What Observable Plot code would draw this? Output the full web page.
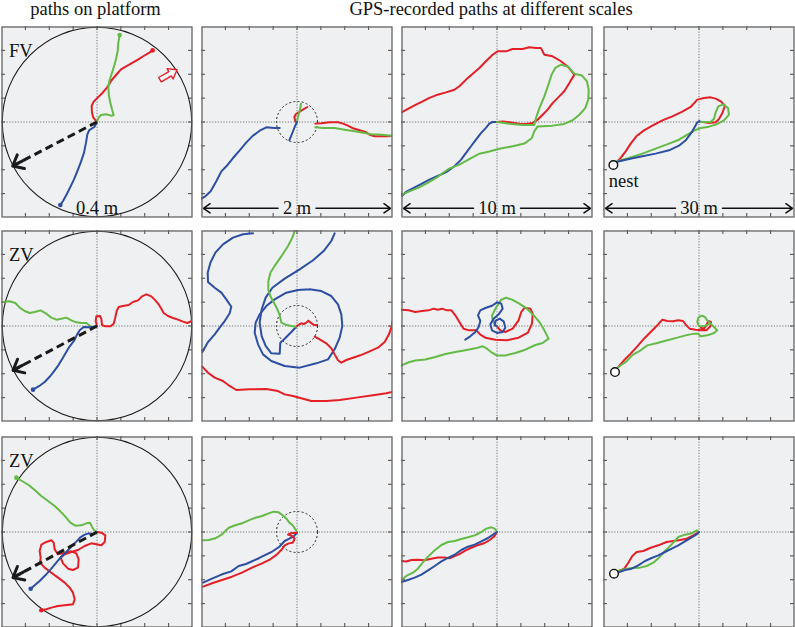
<!DOCTYPE html>
<html><head><meta charset="utf-8">
<script src="https://cdn.jsdelivr.net/npm/d3@7"></script>
<script src="https://cdn.jsdelivr.net/npm/@observablehq/plot@0.6"></script>
<style>
body{margin:0;background:#fff;}
#fig{position:relative;width:795px;height:627px;font-family:"Liberation Serif",serif;overflow:hidden;}
.title{position:absolute;top:0;font-size:18.5px;line-height:18.5px;text-align:center;white-space:nowrap;color:#111;}
.panel{position:absolute;}
</style></head><body>
<div id="fig"></div>
<script>
// ---------- labels ----------
const columnTitles = ["paths on platform", "GPS-recorded paths at different scales"];
const rowLabels = ["FV", "ZV", "ZV"];
const scaleLabels = ["0.4 m", "2 m", "10 m", "30 m"];
const nestLabel = "nest";
// half of the width of each column's panel, metres
const halfRange = [0.2, 1, 5, 15];
const tickPositions = [
  [-0.15, -0.1, -0.05, 0, 0.05, 0.1, 0.15],
  [-0.75, -0.5, -0.25, 0, 0.25, 0.5, 0.75],
  [-3.75, -2.5, -1.25, 0, 1.25, 2.5, 3.75],
  [-11.25, -7.5, -3.75, 0, 3.75, 7.5, 11.25]
];
const platformRadius = 0.215; // m, dashed circle in the 2 m panels
const homeVec = [[-0.1766, -0.0921], [-0.1759, -0.0928], [-0.1759, -0.0956]];
const nestPos = [[-13.45, -6.75], [-13.19, -7.23], [-13.35, -6.55]];

// ---------- row 1 (FV) ----------
const p11_red = [[0,0],[-0.0021,0.0021],[-0.0077,0.0091],[-0.0105,0.0195],[-0.0112,0.0335],[-0.0070,0.0426],[0.0014,0.0510],[0.0119,0.0614],[0.0209,0.0719],[0.0293,0.0859],[0.0398,0.0984],[0.0503,0.1103],[0.0628,0.1173],[0.0747,0.1242],[0.0866,0.1312],[0.0977,0.1382],[0.1096,0.1452],[0.1166,0.1501]];
const p11_green = [[0,0],[0.0035,0.0091],[0.0084,0.0147],[0.0188,0.0161],[0.0293,0.0133],[0.0349,0.0140],[0.0314,0.0265],[0.0279,0.0405],[0.0251,0.0544],[0.0237,0.0719],[0.0258,0.0859],[0.0293,0.0963],[0.0349,0.1138],[0.0398,0.1312],[0.0433,0.1487],[0.0447,0.1661],[0.0475,0.1822]];
const p11_blue = [[-0.0007,-0.0014],[-0.0056,-0.0105],[-0.0161,-0.0168],[-0.0202,-0.0258],[-0.0230,-0.0433],[-0.0272,-0.0642],[-0.0335,-0.0831],[-0.0405,-0.1012],[-0.0482,-0.1201],[-0.0565,-0.1375],[-0.0642,-0.1529],[-0.0712,-0.1654],[-0.0768,-0.1738]];
const p11_redArrow = [[0.1346,0.0840],[0.1558,0.0965],[0.1594,0.0900],[0.1675,0.1095],[0.1467,0.1118],[0.1504,0.1055],[0.1292,0.0932],[0.1346,0.0840]];

const p12_red_in = [[0,0],[-0.0175,0.0070],[-0.0279,0.0524],[-0.0105,0.0838],[0.0279,0.1082],[0.0733,0.1361],[0.1082,0.1571]];
const p12_green_in = [[0,0],[0.0105,0.0593],[0.0279,0.1117],[0.0384,0.1710],[0.0419,0.1920]];
const p12_blue_in = [[0,0],[-0.0244,-0.0524],[-0.0489,-0.1152],[-0.0803,-0.1920]];
const p12_red_out = [[0.192,-0.017],[0.255,-0.014],[0.342,-0.003],[0.429,-0.003],[0.482,-0.017],[0.534,-0.038],[0.586,-0.066],[0.656,-0.087],[0.726,-0.108],[0.761,-0.133],[0.813,-0.150],[0.883,-0.150],[0.953,-0.150],[0.995,-0.143]];
const p12_green_out = [[0.192,-0.056],[0.272,-0.063],[0.394,-0.063],[0.499,-0.080],[0.604,-0.098],[0.708,-0.115],[0.778,-0.129],[0.883,-0.133],[0.988,-0.143]];
const p12_blue_out = [[-0.181,-0.063],[-0.241,-0.063],[-0.321,-0.056],[-0.391,-0.091],[-0.461,-0.143],[-0.530,-0.213],[-0.600,-0.297],[-0.670,-0.377],[-0.740,-0.464],[-0.792,-0.517],[-0.845,-0.621],[-0.904,-0.726],[-0.960,-0.778],[-1.0,-0.803]];

const p13_red = [[-4.97,0.52],[-4.59,0.73],[-4.24,0.91],[-3.89,1.08],[-3.54,1.26],[-3.11,1.43],[-2.67,1.55],[-2.23,1.69],[-1.97,1.87],[-1.62,2.22],[-1.27,2.53],[-0.92,2.83],[-0.58,3.18],[-0.23,3.52],[0.03,3.70],[0.47,3.70],[0.82,3.82],[1.34,3.82],[1.69,3.91],[2.04,3.87],[2.30,3.87],[2.48,3.52],[2.91,3.44],[3.35,3.18],[3.70,2.91],[4.05,2.48],[3.79,2.04],[3.52,1.61],[3.26,1.34],[2.91,0.99],[2.65,0.65],[2.39,0.38],[2.13,0.12],[1.87,-0.05],[1.52,-0.10],[1.17,-0.09],[0.73,-0.02],[0.30,0.02],[0,0]];
const p13_green = [[0,0],[0.65,-0.09],[1.34,-0.16],[1.95,-0.16],[2.04,0.21],[2.22,0.73],[2.48,1.34],[2.69,1.95],[2.86,2.48],[3.05,2.83],[3.35,3.00],[3.70,2.91],[4.05,2.53],[4.45,2.43],[4.71,2.13],[4.80,1.69],[4.78,1.17],[4.62,0.73],[4.31,0.38],[3.96,0.09],[3.52,-0.10],[2.91,-0.19],[2.13,-0.23],[1.95,-0.49],[1.83,-0.84],[1.43,-1.13],[0.82,-1.27],[0.12,-1.40],[-0.40,-1.54],[-0.92,-1.66],[-1.45,-1.94],[-1.97,-2.23],[-2.50,-2.44],[-2.84,-2.67],[-3.19,-2.93],[-3.63,-3.19],[-4.07,-3.42],[-4.59,-3.63],[-4.97,-3.80]];
const p13_blue = [[0,0],[-0.23,0],[-0.40,-0.09],[-0.58,-0.31],[-0.84,-0.58],[-1.10,-0.92],[-1.36,-1.27],[-1.62,-1.62],[-1.88,-1.97],[-2.23,-2.32],[-2.58,-2.58],[-3.02,-2.79],[-3.54,-3.02],[-3.98,-3.25],[-4.41,-3.47],[-4.76,-3.66],[-4.97,-3.86]];

const p14_red = [[-12.99,-6.34],[-12.30,-5.65],[-11.52,-4.61],[-10.73,-3.40],[-9.84,-2.25],[-8.64,-1.31],[-7.33,-0.58],[-5.76,0.26],[-4.19,0.89],[-2.62,1.62],[-1.31,2.36],[-0.26,3.51],[0.79,3.77],[1.83,3.87],[2.62,3.67],[3.40,3.25],[4.08,2.57],[3.67,1.41],[3.14,0.47],[2.62,-0.05],[1.57,-0.16],[0.63,0],[0,0]];
const p14_green = [[-12.99,-6.18],[-11.00,-5.65],[-8.90,-4.97],[-6.81,-4.19],[-4.71,-3.40],[-3.14,-2.78],[-1.83,-1.99],[-0.79,-1.36],[0.26,-0.94],[1.57,-0.73],[2.88,-0.31],[3.93,0.26],[4.71,1.15],[4.56,2.20],[3.82,2.78],[3.04,2.46],[2.62,1.52],[2.36,0.52],[1.83,0],[0,0]];
const p14_blue = [[-12.99,-6.28],[-11.00,-5.81],[-8.90,-5.39],[-6.81,-4.97],[-4.71,-4.45],[-3.14,-3.72],[-2.09,-2.88],[-1.05,-1.47],[-0.26,-0.05],[0.10,0.16]];

// ---------- row 2 (ZV) ----------
const p21_green = [[-0.1968,0.0503],[-0.1829,0.0517],[-0.1710,0.0482],[-0.1619,0.0384],[-0.1515,0.0314],[-0.1410,0.0272],[-0.1305,0.0293],[-0.1180,0.0328],[-0.1082,0.0272],[-0.0956,0.0175],[-0.0852,0.0133],[-0.0747,0.0154],[-0.0642,0.0175],[-0.0537,0.0119],[-0.0433,0.0077],[-0.0328,0.0063],[-0.0223,0.0063],[-0.0119,-0.0021]];
const p21_red = [[0,0],[-0.0028,0.0105],[-0.0014,0.0202],[0.0063,0.0209],[0.0091,0.0147],[0.0105,0.0021],[0.0175,-0.0007],[0.0286,-0.0007],[0.0349,0.0049],[0.0377,0.0154],[0.0412,0.0314],[0.0454,0.0398],[0.0544,0.0419],[0.0663,0.0440],[0.0754,0.0503],[0.0859,0.0537],[0.0942,0.0621],[0.1033,0.0663],[0.1138,0.0621],[0.1222,0.0537],[0.1291,0.0454],[0.1347,0.0363],[0.1396,0.0272],[0.1487,0.0209],[0.1591,0.0168],[0.1696,0.0133],[0.1801,0.0091],[0.1892,0.0063],[0.1989,0.0105]];
const p21_blue = [[0,-0.0007],[-0.0154,-0.0028],[-0.0279,-0.0021],[-0.0363,-0.0091],[-0.0426,-0.0195],[-0.0482,-0.0314],[-0.0572,-0.0426],[-0.0656,-0.0565],[-0.0726,-0.0684],[-0.0810,-0.0824],[-0.0886,-0.0928],[-0.0977,-0.1047],[-0.1096,-0.1173],[-0.1208,-0.1256],[-0.1340,-0.1333]];

const p22_blueA = [[-0.461,0.970],[-0.565,0.960],[-0.670,0.925],[-0.775,0.855],[-0.855,0.768],[-0.907,0.663],[-0.935,0.558],[-0.932,0.461],[-0.862,0.401],[-0.792,0.349],[-0.740,0.279],[-0.688,0.202],[-0.705,0.133],[-0.757,0.052],[-0.810,-0.017],[-0.862,-0.087],[-0.932,-0.168],[-0.991,-0.272]];
const p22_blueB = [[0.394,0.970],[0.359,0.890],[0.279,0.785],[0.168,0.688],[0.028,0.593],[-0.129,0.496],[-0.258,0.401],[-0.328,0.297],[-0.370,0.175],[-0.391,0.035],[-0.370,-0.105],[-0.328,-0.209],[-0.269,-0.286],[-0.181,-0.290],[-0.175,-0.175],[-0.129,-0.133],[-0.059,-0.063],[0,0]];
const p22_blueC = [[0.133,0.384],[0.255,0.366],[0.359,0.314],[0.429,0.227],[0.464,0.122],[0.475,0],[0.447,-0.122],[0.394,-0.244],[0.325,-0.349],[0.202,-0.391],[0.028,-0.436],[-0.129,-0.419],[-0.269,-0.366],[-0.356,-0.297],[-0.408,-0.192],[-0.443,-0.070],[-0.433,0.035],[-0.391,0.122],[-0.321,0.209],[-0.234,0.279],[-0.112,0.349],[0.010,0.377],[0.133,0.384]];
const p22_green = [[-0.024,0.995],[-0.049,0.925],[-0.094,0.838],[-0.157,0.740],[-0.223,0.646],[-0.279,0.558],[-0.300,0.471],[-0.300,0.377],[-0.276,0.307],[-0.241,0.244],[-0.206,0.175],[-0.181,0.112],[-0.164,0.035],[-0.119,0.014],[-0.059,0],[-0.007,-0.007]];
const p22_red_in = [[0,0],[0.021,0.014],[0.045,0.028],[0.070,0.021],[0.098,0.035],[0.119,0.056],[0.143,0.035],[0.171,0.014],[0.209,0.007]];
const p22_redA = [[0.185,-0.112],[0.237,-0.140],[0.307,-0.181],[0.359,-0.234],[0.394,-0.297],[0.429,-0.359],[0.464,-0.384],[0.517,-0.356],[0.586,-0.332],[0.663,-0.307],[0.761,-0.265],[0.848,-0.227],[0.918,-0.168],[0.963,-0.087],[0.991,-0.007],[1.0,0.052]];
const p22_redB = [[-0.991,-0.426],[-0.932,-0.489],[-0.862,-0.541],[-0.775,-0.576],[-0.705,-0.628],[-0.635,-0.670],[-0.496,-0.663],[-0.321,-0.660],[-0.199,-0.681],[-0.129,-0.716],[-0.042,-0.733],[0.063,-0.761],[0.150,-0.785],[0.307,-0.785],[0.447,-0.775],[0.621,-0.750],[0.796,-0.726],[0.935,-0.705],[1.0,-0.691]];

const p23_red = [[-5.0,0.855],[-4.62,0.820],[-4.28,0.733],[-3.93,0.785],[-3.58,0.820],[-3.32,0.907],[-3.09,0.855],[-2.88,0.907],[-2.62,0.820],[-2.39,0.820],[-2.18,0.558],[-1.97,0.209],[-1.75,-0.140],[-1.45,-0.227],[-1.08,-0.227],[-0.873,-0.454],[-0.611,-0.611],[-0.087,-0.715],[0.524,-0.750],[1.13,-0.611],[1.62,-0.349],[1.83,0.122],[1.87,0.646],[1.75,0.907],[1.45,0.960],[1.27,0.733],[1.13,0.297],[0.820,-0.140],[0.436,-0.314],[0.175,-0.227],[0,-0.017]];
const p23_green = [[-5.0,-2.06],[-4.62,-1.90],[-4.28,-1.81],[-3.75,-1.75],[-3.23,-1.62],[-2.70,-1.47],[-2.18,-1.36],[-1.66,-1.27],[-1.13,-1.17],[-0.750,-1.06],[-0.524,-1.19],[-0.262,-1.40],[0,-1.55],[0.436,-1.54],[0.960,-1.41],[1.48,-1.24],[2.01,-0.995],[2.39,-0.890],[2.70,-0.663],[2.48,-0.227],[2.22,0.209],[1.92,0.558],[1.57,0.907],[1.17,1.17],[0.785,1.38],[0.471,1.48],[0.227,1.38],[-0.052,0.960],[-0.262,0.558],[-0.209,0.209],[0,-0.017]];
const p23_blue = [[-1.66,-0.715],[-1.40,-0.541],[-1.13,-0.314],[-0.960,-0.052],[-0.873,0.262],[-0.995,0.558],[-0.873,0.820],[-0.611,0.942],[-0.262,1.06],[0,1.24],[0.227,1.17],[0.297,0.907],[0.087,0.611],[-0.175,0.384],[-0.349,0.087],[-0.262,-0.227],[0,-0.366],[0.297,-0.314],[0.436,-0.087],[0.349,0.244],[0.140,0.384],[-0.087,0.262],[-0.122,0.035],[0,-0.017]];

const p24_red = [[-12.67,-6.44],[-11.78,-5.39],[-10.73,-4.35],[-9.69,-3.19],[-8.64,-1.99],[-7.59,-0.942],[-6.54,0.105],[-5.76,0.995],[-4.97,0.785],[-4.08,0.733],[-3.25,0.890],[-2.51,0.785],[-1.99,0.105],[-1.47,-0.419],[-0.524,-0.576],[0.419,-0.681],[1.15,-0.681],[1.78,-0.052],[1.88,0.628],[1.47,0.785],[1.15,0.105],[0.785,-0.419],[0.262,-0.262]];
const p24_green = [[-12.67,-6.44],[-11.52,-5.65],[-10.37,-4.50],[-9.16,-3.82],[-8.12,-3.04],[-6.54,-2.67],[-4.97,-2.25],[-3.40,-1.83],[-2.09,-1.47],[-0.785,-1.20],[-0.105,-1.20],[0.262,-1.62],[1.31,-1.47],[2.36,-1.10],[2.88,-0.681],[2.36,-0.157],[1.83,0.367],[1.31,0.890],[0.942,1.41],[0.419,1.62],[-0.105,1.31],[-0.262,0.628],[0,0],[0.785,-0.052],[1.47,0.262]];

// ---------- row 3 (ZV) ----------
const p31_green = [[-0.1689,0.1138],[-0.1571,0.1068],[-0.1431,0.0984],[-0.1305,0.0880],[-0.1166,0.0754],[-0.1026,0.0649],[-0.0886,0.0544],[-0.0768,0.0433],[-0.0663,0.0321],[-0.0558,0.0195],[-0.0454,0.0133],[-0.0328,0.0140],[-0.0223,0.0181],[-0.0147,0.0195],[-0.0105,0.0112],[-0.0063,0.0042],[0,0]];
const p31_red = [[0,0],[0.0091,-0.0014],[0.0175,-0.0070],[0.0161,-0.0209],[0.0091,-0.0279],[-0.0014,-0.0258],[-0.0119,-0.0237],[-0.0258,-0.0293],[-0.0398,-0.0377],[-0.0537,-0.0419],[-0.0677,-0.0468],[-0.0761,-0.0537],[-0.0712,-0.0656],[-0.0607,-0.0768],[-0.0503,-0.0796],[-0.0398,-0.0747],[-0.0384,-0.0572],[-0.0433,-0.0447],[-0.0537,-0.0405],[-0.0677,-0.0433],[-0.0817,-0.0468],[-0.0886,-0.0363],[-0.0907,-0.0223],[-0.0956,-0.0174],[-0.1061,-0.0209],[-0.1166,-0.0265],[-0.1201,-0.0398],[-0.1180,-0.0537],[-0.1194,-0.0642],[-0.1096,-0.0747],[-0.0956,-0.0852],[-0.0817,-0.0956],[-0.0677,-0.1061],[-0.0572,-0.1166],[-0.0503,-0.1270],[-0.0468,-0.1410],[-0.0503,-0.1515],[-0.0677,-0.1536],[-0.0817,-0.1550],[-0.0956,-0.1584],[-0.1061,-0.1619],[-0.1166,-0.1640]];
const p31_blue = [[0,0],[-0.0084,-0.0049],[-0.0174,-0.0028],[-0.0258,-0.0056],[-0.0342,-0.0105],[-0.0433,-0.0202],[-0.0537,-0.0307],[-0.0642,-0.0419],[-0.0747,-0.0517],[-0.0852,-0.0642],[-0.0956,-0.0768],[-0.1082,-0.0907],[-0.1201,-0.1026],[-0.1305,-0.1117],[-0.1389,-0.1187]];

const p32_green = [[-0.984,-0.087],[-0.925,-0.084],[-0.855,-0.066],[-0.785,-0.024],[-0.715,0.045],[-0.646,0.070],[-0.576,0.091],[-0.506,0.122],[-0.436,0.150],[-0.366,0.168],[-0.297,0.195],[-0.244,0.213],[-0.192,0.206],[-0.140,0.168],[-0.105,0.133],[-0.080,0.098],[-0.045,0.070],[-0.017,0.028],[0,0]];
const p32_blue = [[-0.984,-0.530],[-0.890,-0.489],[-0.785,-0.443],[-0.688,-0.412],[-0.611,-0.356],[-0.534,-0.335],[-0.464,-0.304],[-0.394,-0.272],[-0.325,-0.237],[-0.255,-0.202],[-0.185,-0.154],[-0.129,-0.094],[-0.080,-0.070],[-0.031,-0.042],[0,-0.007]];
const p32_red = [[-0.984,-0.572],[-0.890,-0.537],[-0.785,-0.503],[-0.681,-0.468],[-0.576,-0.426],[-0.471,-0.373],[-0.366,-0.328],[-0.279,-0.286],[-0.209,-0.234],[-0.157,-0.181],[-0.129,-0.140],[-0.087,-0.119],[-0.045,-0.112],[-0.024,-0.070],[-0.052,-0.042],[-0.094,-0.028],[-0.070,-0.014],[0,-0.007]];

const p33_red = [[-5.0,-1.52],[-4.75,-1.54],[-4.48,-1.47],[-4.14,-1.45],[-3.79,-1.48],[-3.44,-1.40],[-3.09,-1.34],[-2.74,-1.33],[-2.48,-1.38],[-2.22,-1.26],[-1.95,-1.15],[-1.66,-0.977],[-1.38,-0.838],[-1.03,-0.698],[-0.681,-0.593],[-0.384,-0.419],[-0.157,-0.244],[0,0]];
const p33_green = [[-5.0,-2.51],[-4.75,-2.30],[-4.40,-2.13],[-4.14,-1.92],[-3.87,-1.57],[-3.61,-1.29],[-3.26,-0.960],[-2.91,-0.681],[-2.57,-0.524],[-2.22,-0.471],[-1.87,-0.366],[-1.52,-0.279],[-1.17,-0.175],[-0.820,0],[-0.558,0.175],[-0.297,0.244],[-0.122,0.175],[0,0]];
const p33_blue = [[-5.0,-2.62],[-4.66,-2.51],[-4.31,-2.39],[-3.96,-2.23],[-3.61,-2.01],[-3.26,-1.78],[-2.91,-1.54],[-2.57,-1.36],[-2.22,-1.19],[-1.87,-0.942],[-1.52,-0.768],[-1.17,-0.663],[-0.820,-0.489],[-0.471,-0.314],[-0.209,-0.140],[0,0]];

const p34_red = [[-12.78,-6.18],[-11.73,-5.76],[-11.10,-4.82],[-10.47,-3.77],[-9.79,-3.14],[-8.74,-2.98],[-7.70,-2.51],[-6.39,-2.09],[-5.08,-1.57],[-4.03,-1.41],[-2.98,-1.26],[-1.94,-1.05],[-0.890,-0.524],[0,0]];
const p34_green = [[-12.78,-6.13],[-11.62,-5.86],[-10.58,-5.65],[-9.27,-5.60],[-8.22,-5.34],[-7.17,-4.82],[-6.28,-4.03],[-5.34,-2.98],[-4.29,-1.94],[-3.25,-0.785],[-2.20,-0.419],[-1.15,-0.209],[-0.367,0.262],[0,0]];
const p34_blue = [[-12.78,-6.39],[-11.62,-5.97],[-10.58,-5.76],[-9.53,-5.24],[-8.48,-4.56],[-7.44,-4.08],[-6.39,-3.67],[-5.34,-3.14],[-4.29,-2.62],[-3.25,-2.09],[-2.20,-1.47],[-1.15,-0.838],[-0.367,-0.367],[0,0]];

// ---------- styling ----------
const RED = "#e41f26", GREEN = "#64ba46", BLUE = "#2c4ea3";
const BG = "#eff0f2";
const W = 191;
const colLeft = [0.5, 200.5, 400.5, 602.8];
const rowTop = [25.5, 230, 435.5];
const FONT = "Liberation Serif";
const labelGap = [0, 19, 23.5, 23.5]; // px gap left for the scale label on each side

const panels = [
  [
    [{d: p11_red, c: RED, dot: true}, {d: p11_green, c: GREEN, dot: true}, {d: p11_blue, c: BLUE, dot: true}],
    [{d: p12_blue_out, c: BLUE}, {d: p12_red_out, c: RED}, {d: p12_green_out, c: GREEN}, {d: p12_red_in, c: RED}, {d: p12_green_in, c: GREEN}, {d: p12_blue_in, c: BLUE}],
    [{d: p13_blue, c: BLUE}, {d: p13_red, c: RED}, {d: p13_green, c: GREEN}],
    [{d: p14_red, c: RED}, {d: p14_green, c: GREEN}, {d: p14_blue, c: BLUE}]
  ],
  [
    [{d: p21_green, c: GREEN}, {d: p21_red, c: RED}, {d: p21_blue, c: BLUE, dot: true}],
    [{d: p22_blueA, c: BLUE}, {d: p22_blueB, c: BLUE}, {d: p22_blueC, c: BLUE}, {d: p22_green, c: GREEN}, {d: p22_red_in, c: RED}, {d: p22_redA, c: RED}, {d: p22_redB, c: RED}],
    [{d: p23_red, c: RED}, {d: p23_green, c: GREEN}, {d: p23_blue, c: BLUE}],
    [{d: p24_red, c: RED}, {d: p24_green, c: GREEN}]
  ],
  [
    [{d: p31_green, c: GREEN, dotStart: true}, {d: p31_red, c: RED, dot: true}, {d: p31_blue, c: BLUE, dot: true}],
    [{d: p32_green, c: GREEN}, {d: p32_blue, c: BLUE}, {d: p32_red, c: RED}],
    [{d: p33_red, c: RED}, {d: p33_green, c: GREEN}, {d: p33_blue, c: BLUE}],
    [{d: p34_red, c: RED}, {d: p34_green, c: GREEN}, {d: p34_blue, c: BLUE}]
  ]
];

const fig = document.getElementById("fig");
// column titles
[[columnTitles[0], 95.5], [columnTitles[1], 491]].forEach(([t, cx]) => {
  const d = document.createElement("div");
  d.className = "title";
  d.style.left = (cx - 250) + "px";
  d.style.width = "500px";
  d.textContent = t;
  fig.appendChild(d);
});

const X = d => d[0], Y = d => d[1];

function makePanel(r, c) {
  const s = halfRange[c];
  const t = tickPositions[c];
  const marks = [];
  const grid = {stroke: "#555", strokeWidth: 0.8, strokeDasharray: "1.2,1.6"};
  marks.push(Plot.ruleX([0], grid));
  marks.push(Plot.ruleY([0], grid));
  const tk = {stroke: "#444", strokeWidth: 1};
  marks.push(Plot.tickX(t, {x: d => d, insetTop: W - 4, ...tk}));
  marks.push(Plot.tickX(t, {x: d => d, insetBottom: W - 4, ...tk}));
  marks.push(Plot.tickY(t, {y: d => d, insetRight: W - 4, ...tk}));
  marks.push(Plot.tickY(t, {y: d => d, insetLeft: W - 4, ...tk}));
  if (c === 0) {
    marks.push(Plot.dot([[0, 0]], {x: X, y: Y, r: W / 2 - 0.8, stroke: "#1a1a1a", strokeWidth: 1.1, fill: "none"}));
  }
  if (c === 1) {
    marks.push(Plot.dot([[0, 0]], {x: X, y: Y, r: platformRadius / s * W / 2, stroke: "#222", strokeWidth: 1, strokeDasharray: "2,2.2", fill: "none"}));
  }
  for (const p of panels[r][c]) {
    marks.push(Plot.line(p.d, {x: X, y: Y, stroke: p.c, strokeWidth: 2, clip: true}));
    if (p.dot) marks.push(Plot.dot([p.d[p.d.length - 1]], {x: X, y: Y, r: 2.3, fill: p.c}));
    if (p.dotStart) marks.push(Plot.dot([p.d[0]], {x: X, y: Y, r: 2.3, fill: p.c}));
  }
  if (r === 0 && c === 0) {
    marks.push(Plot.line(p11_redArrow, {x: X, y: Y, stroke: RED, strokeWidth: 1.4, fill: "white"}));
  }
  if (c === 0) {
    const hv = [homeVec[r]];
    marks.push(Plot.link(hv, {x1: () => 0, y1: () => 0, x2: X, y2: Y, stroke: "#1a1a1a", strokeWidth: 3, strokeDasharray: "8,4.5"}));
    marks.push(Plot.arrow(hv, {x1: () => 0, y1: () => 0, x2: X, y2: Y, stroke: "#1a1a1a", strokeWidth: 3, insetStart: 84, headLength: 6, headAngle: 80}));
    marks.push(Plot.text([rowLabels[r]], {frameAnchor: "top-left", text: d => d, dx: 7.5, dy: 16.9, textAnchor: "start", fontSize: 18.5, fontFamily: FONT, fill: "#111"}));
  }
  if (c === 3) {
    marks.push(Plot.dot([nestPos[r]], {x: X, y: Y, r: 4.3, fill: "white", stroke: "#111", strokeWidth: 1.4}));
    if (r === 0) {
      marks.push(Plot.text([nestPos[r]], {x: X, y: Y, text: () => nestLabel, dx: -4.5, dy: 15.8, textAnchor: "start", fontSize: 18.5, fontFamily: FONT, fill: "#111"}));
    }
  }
  if (r === 0) {
    if (c > 0) {
      const ends = [-s, s];
      marks.push(Plot.arrow(ends, {x1: () => 0, y1: () => -s, x2: d => d, y2: () => -s, dy: -9.2, stroke: "#111", strokeWidth: 1.5, headLength: 8, headAngle: 70, insetStart: labelGap[c], insetEnd: 2}));
    }
    marks.push(Plot.text([scaleLabels[c]], {x: () => 0, y: () => -s, text: d => d, dy: -9.6, fontSize: 18.5, fontFamily: FONT, fill: "#111"}));
  }
  marks.push(Plot.frame({stroke: "#666", strokeWidth: 1.3, inset: 0.5}));
  const plot = Plot.plot({
    width: W, height: W, margin: 0,
    x: {domain: [-s, s], axis: null},
    y: {domain: [-s, s], axis: null},
    style: {background: BG, overflow: "visible", fontFamily: FONT},
    marks
  });
  const wrap = document.createElement("div");
  wrap.className = "panel";
  wrap.style.left = colLeft[c] + "px";
  wrap.style.top = rowTop[r] + "px";
  wrap.appendChild(plot);
  fig.appendChild(wrap);
}

for (let r = 0; r < 3; r++) for (let c = 0; c < 4; c++) makePanel(r, c);
</script></body></html>
